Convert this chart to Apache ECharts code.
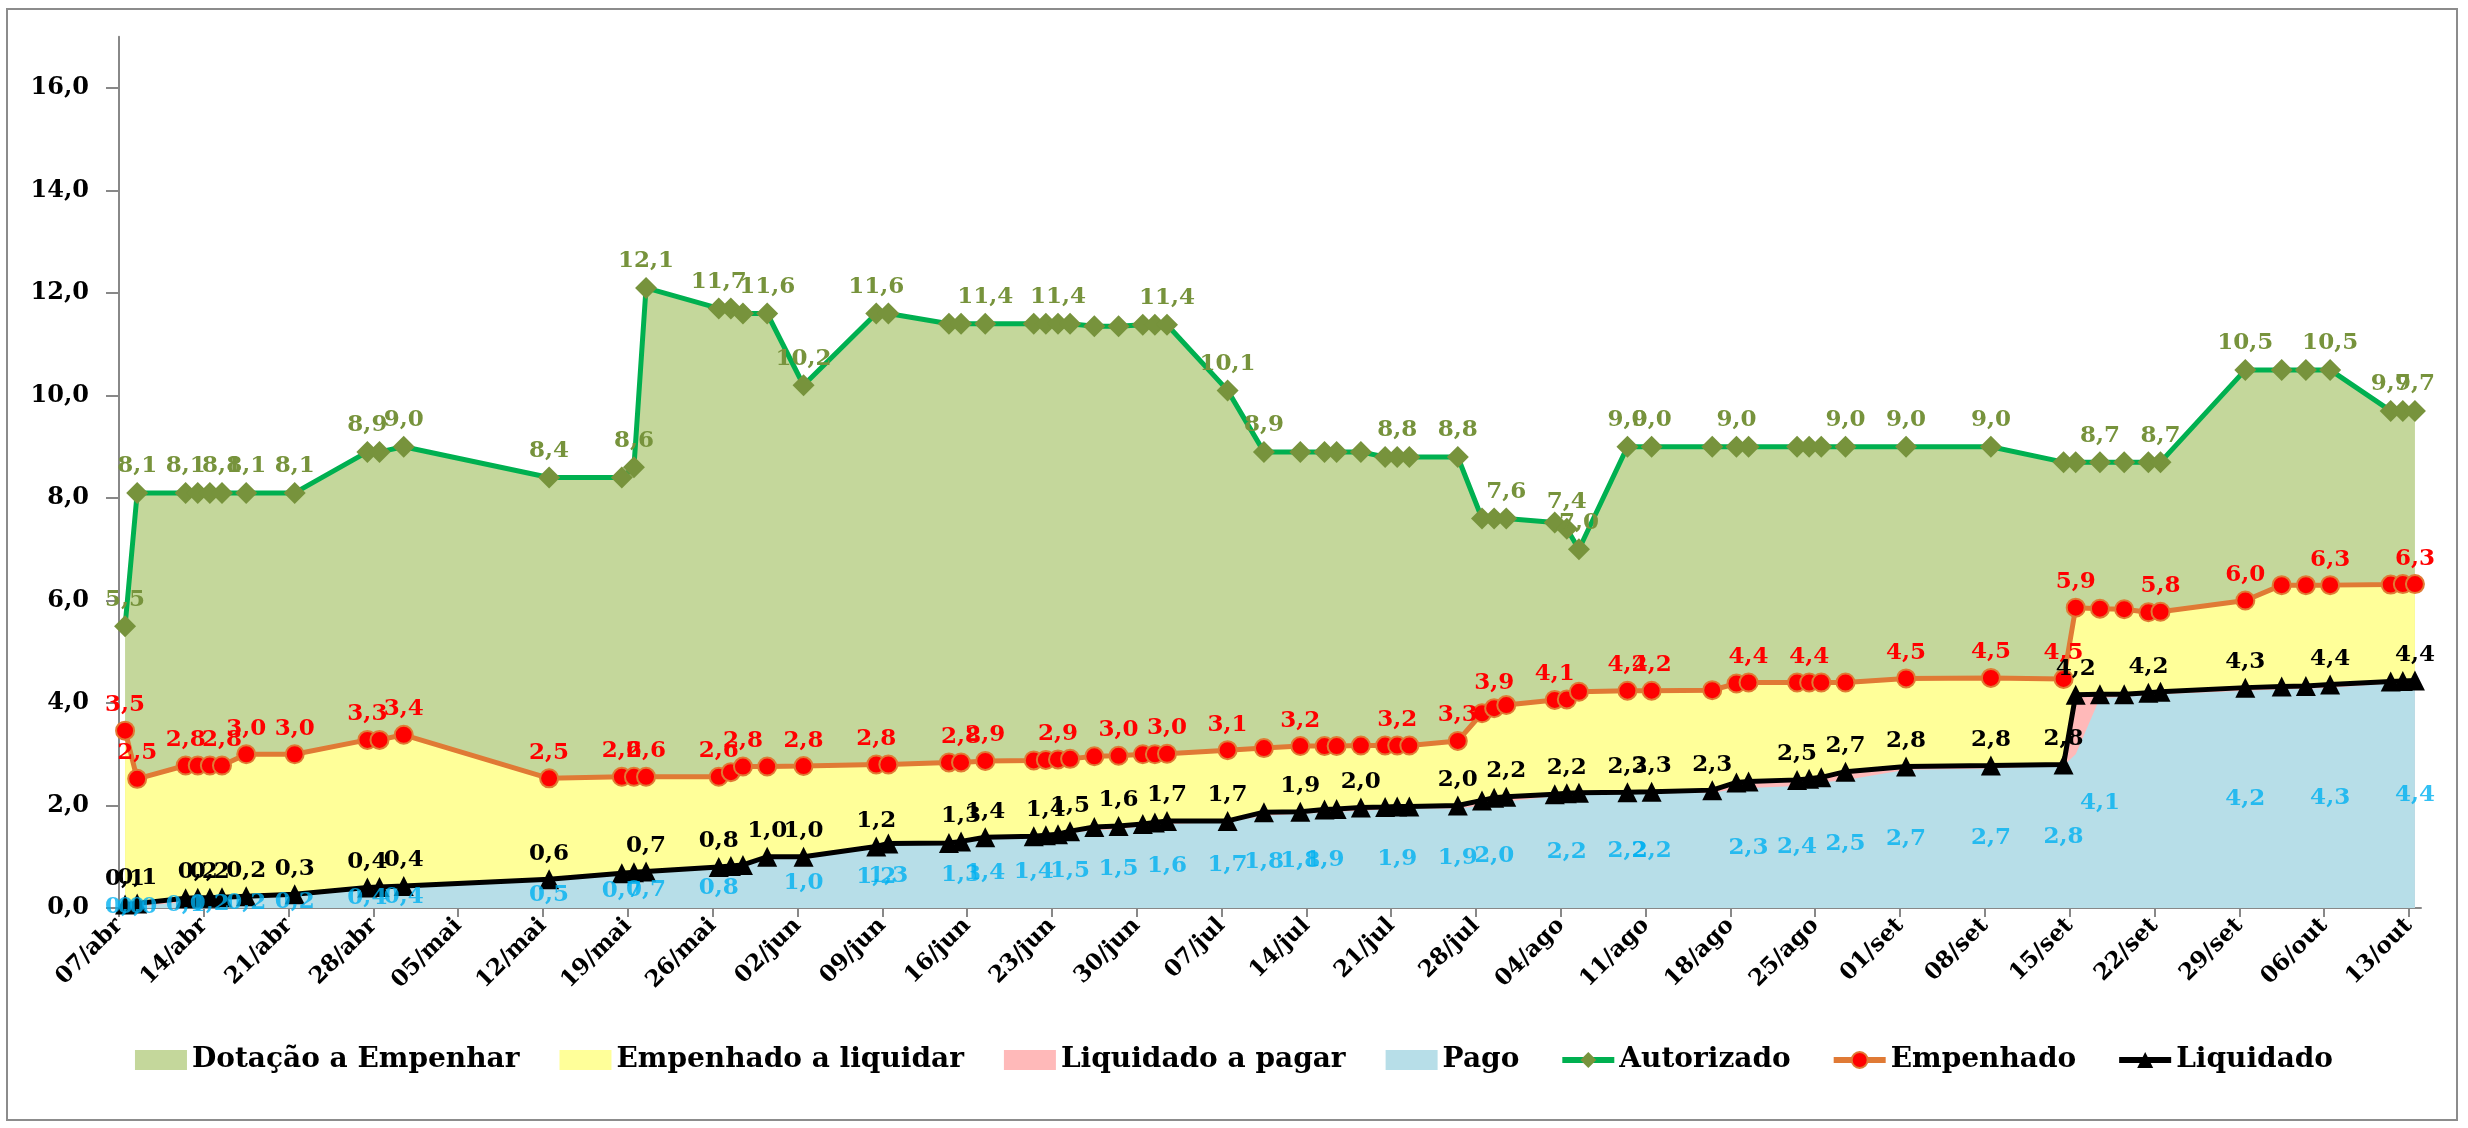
<!DOCTYPE html>
<html><head><meta charset="utf-8">
<script src="https://cdn.jsdelivr.net/npm/echarts@6/dist/echarts.min.js"></script>
<style>html,body{margin:0;padding:0;background:#fff}#c{width:2468px;height:1128px}</style>
</head><body><div id="c"></div>
<script>
// ---- data (dates dd/mm) ----
const dates = ['07/04','08/04','12/04','13/04','14/04','15/04','17/04','21/04','27/04','28/04','30/04','12/05','18/05','19/05','20/05','26/05','27/05','28/05','30/05','02/06','08/06','09/06','14/06','15/06','17/06','21/06','22/06','23/06','24/06','26/06','28/06','30/06','01/07','02/07','07/07','10/07','13/07','15/07','16/07','18/07','20/07','21/07','22/07','26/07','28/07','29/07','30/07','03/08','04/08','05/08','09/08','11/08','16/08','18/08','19/08','23/08','24/08','25/08','27/08','01/09','08/09','14/09','15/09','17/09','19/09','21/09','22/09','29/09','02/10','04/10','06/10','11/10','12/10','13/10'];
const autorizado = [5.5,8.1,8.1,8.1,8.1,8.1,8.1,8.1,8.9,8.9,9.0,8.4,8.4,8.6,12.1,11.7,11.7,11.6,11.6,10.2,11.6,11.6,11.4,11.4,11.4,11.4,11.4,11.4,11.4,11.35,11.35,11.38,11.38,11.38,10.1,8.9,8.9,8.9,8.9,8.9,8.8,8.8,8.8,8.8,7.6,7.6,7.6,7.52,7.4,7.0,9.0,9.0,9.0,9.0,9.0,9.0,9.0,9.0,9.0,9.0,9.0,8.7,8.7,8.7,8.7,8.7,8.7,10.5,10.5,10.5,10.5,9.7,9.7,9.7];
const empenhado = [3.46,2.52,2.78,2.78,2.78,2.78,3.0,3.0,3.28,3.28,3.38,2.53,2.56,2.56,2.56,2.56,2.65,2.76,2.76,2.77,2.8,2.8,2.84,2.84,2.87,2.88,2.89,2.9,2.91,2.96,2.97,3.0,3.0,3.01,3.08,3.12,3.16,3.16,3.16,3.17,3.17,3.17,3.17,3.26,3.8,3.9,3.96,4.06,4.07,4.22,4.24,4.24,4.25,4.38,4.4,4.4,4.4,4.4,4.4,4.48,4.49,4.47,5.86,5.84,5.83,5.77,5.78,6.0,6.3,6.3,6.3,6.31,6.32,6.32];
const liquidado = [0.07,0.09,0.19,0.2,0.2,0.21,0.23,0.27,0.4,0.41,0.43,0.56,0.68,0.7,0.71,0.8,0.82,0.84,1.0,1.0,1.2,1.26,1.27,1.3,1.38,1.4,1.42,1.44,1.5,1.58,1.6,1.64,1.67,1.7,1.7,1.87,1.88,1.92,1.93,1.96,1.97,1.98,1.98,2.0,2.1,2.15,2.17,2.22,2.24,2.25,2.26,2.27,2.3,2.45,2.47,2.5,2.52,2.55,2.66,2.76,2.78,2.8,4.16,4.17,4.17,4.2,4.22,4.3,4.32,4.33,4.36,4.42,4.43,4.44];
const pago = [0.02,0.03,0.12,0.14,0.16,0.18,0.2,0.22,0.38,0.4,0.42,0.52,0.68,0.68,0.7,0.78,0.8,0.82,0.96,0.98,1.2,1.26,1.27,1.3,1.38,1.4,1.42,1.44,1.46,1.52,1.53,1.6,1.62,1.64,1.68,1.8,1.84,1.86,1.88,1.9,1.92,1.93,1.94,1.94,2.0,2.04,2.08,2.18,2.2,2.22,2.24,2.24,2.25,2.32,2.34,2.38,2.42,2.45,2.5,2.7,2.72,2.78,3.0,4.1,4.12,4.15,4.17,4.24,4.27,4.28,4.3,4.38,4.4,4.42];
const tickLabels = ['07/abr','14/abr','21/abr','28/abr','05/mai','12/mai','19/mai','26/mai','02/jun','09/jun','16/jun','23/jun','30/jun','07/jul','14/jul','21/jul','28/jul','04/ago','11/ago','18/ago','25/ago','01/set','08/set','15/set','22/set','29/set','06/out','13/out'];
const yTicks = [0,2,4,6,8,10,12,14,16];
// dates whose value labels are visible in the reference
const autLabelDates = ['07/04','08/04','12/04','15/04','17/04','21/04','27/04','30/04','12/05','19/05','20/05','26/05','30/05','02/06','08/06','17/06','23/06','02/07','07/07','10/07','21/07','26/07','30/07','04/08','05/08','09/08','11/08','18/08','27/08','01/09','08/09','17/09','22/09','29/09','06/10','11/10','13/10'];
const empLabelDates = ['07/04','08/04','12/04','15/04','17/04','21/04','27/04','30/04','12/05','18/05','20/05','26/05','28/05','02/06','08/06','15/06','17/06','23/06','28/06','02/07','07/07','13/07','21/07','26/07','29/07','03/08','09/08','11/08','19/08','24/08','01/09','08/09','14/09','15/09','22/09','29/09','06/10','13/10'];
const liqLabelDates = ['07/04','08/04','13/04','14/04','17/04','21/04','27/04','30/04','12/05','20/05','26/05','30/05','02/06','08/06','15/06','17/06','22/06','24/06','28/06','02/07','07/07','13/07','18/07','26/07','30/07','04/08','09/08','11/08','16/08','23/08','27/08','01/09','08/09','14/09','15/09','21/09','29/09','06/10','13/10'];
const pagoLabelDates = ['07/04','08/04','12/04','14/04','17/04','21/04','27/04','30/04','12/05','18/05','20/05','26/05','02/06','08/06','09/06','15/06','17/06','21/06','24/06','28/06','02/07','07/07','10/07','13/07','15/07','21/07','26/07','29/07','04/08','09/08','11/08','19/08','23/08','27/08','01/09','08/09','14/09','17/09','29/09','06/10','13/10'];

// ---- helpers ----
const BASE = Date.UTC(2025, 3, 7);
const dayOf = s => { const [d, m] = s.split('/').map(Number); return (Date.UTC(2025, m - 1, d) - BASE) / 864e5; };
const xs = dates.map(s => dayOf(s) + 0.5);   // each day plotted at its middle
const fmt = v => v.toFixed(1).replace('.', ',');
const FONT = 'DejaVu Serif';
const LBL = 23;

// Stacked bands: Pago (bottom), Liquidado a pagar = Liquidado - Pago,
// Empenhado a liquidar = Empenhado - Liquidado, Dotação a Empenhar = Autorizado - Empenhado.
// Each band is painted from 0 up to its cumulative top, upper bands first.
function areaSeries(name, tops, color, z) {
  return { name, type: 'line', symbol: 'none', showSymbol: false,
    color, lineStyle: { width: 0, opacity: 0 }, areaStyle: { color, opacity: 1, origin: 'start' },
    data: tops.map((v, i) => [xs[i], v]), z, silent: true };
}
function lineSeries(name, vals, labelDates, lineColor, symbol, size, mColor, labColor, border) {
  const set = new Set(labelDates);
  return { name, type: 'line', symbol, symbolSize: size, color: mColor,
    lineStyle: { color: lineColor, width: 5 },
    itemStyle: { color: mColor, borderColor: border || mColor, borderWidth: border ? 2 : 0 },
    label: { show: false, position: 'top', distance: 4, color: labColor, fontFamily: FONT,
      fontWeight: 'bold', fontSize: LBL, formatter: p => fmt(p.value[1]) },
    data: vals.map((v, i) => ({ value: [xs[i], v], label: { show: set.has(dates[i]) } })),
    z: 5 };
}
const pagoSet = new Set(pagoLabelDates);

const option = {
  animation: false,
  graphic: [{ type: 'rect', shape: { x: 7, y: 9, width: 2450, height: 1111 },
    style: { fill: 'none', stroke: '#8c8c8c', lineWidth: 2 } }],
  grid: { left: 119, right: 47, top: 36.75, bottom: 220, outerBoundsMode: 'none' },
  legend: {
    top: 1041, left: 'center', itemWidth: 52, itemHeight: 20, itemGap: 40,
    lineStyle: { width: 6 },
    textStyle: { fontFamily: FONT, fontWeight: 'bold', fontSize: 28, color: '#000' },
    data: [
      { name: 'Dotação a Empenhar', icon: 'rect' },
      { name: 'Empenhado a liquidar', icon: 'rect' },
      { name: 'Liquidado a pagar', icon: 'rect' },
      { name: 'Pago', icon: 'rect' },
      'Autorizado', 'Empenhado', 'Liquidado'
    ]
  },
  xAxis: {
    type: 'value', min: 0, max: 190,
    axisLine: { show: true, lineStyle: { color: '#888', width: 2 } },
    axisTick: { show: true, length: 9, lineStyle: { color: '#888', width: 2 },
      customValues: tickLabels.map((_, i) => i * 7) },
    axisLabel: { rotate: 45, margin: 14, fontFamily: FONT, fontWeight: 'bold', fontSize: 23, color: '#000',
      customValues: tickLabels.map((_, i) => i * 7),
      formatter: v => tickLabels[Math.round(v / 7)] },
    splitLine: { show: false }
  },
  yAxis: {
    type: 'value', min: 0, max: 17,
    axisLine: { show: true, lineStyle: { color: '#888', width: 2 } },
    axisTick: { show: true, length: 13, lineStyle: { color: '#888', width: 2 }, customValues: yTicks },
    axisLabel: { margin: 30, fontFamily: FONT, fontWeight: 'bold', fontSize: 24, color: '#000',
      customValues: yTicks, formatter: v => fmt(v) },
    splitLine: { show: false }
  },
  series: [
    areaSeries('Dotação a Empenhar', autorizado, '#C4D79B', 1),
    areaSeries('Empenhado a liquidar', empenhado, '#FFFF99', 2),
    areaSeries('Liquidado a pagar', liquidado, '#FFB9B9', 3),
    areaSeries('Pago', pago, '#B7DEE8', 4),
    lineSeries('Autorizado', autorizado, autLabelDates, '#00B050', 'diamond', 22, '#77933C', '#77933C'),
    lineSeries('Empenhado', empenhado, empLabelDates, '#E07A35', 'circle', 18, '#FF0000', '#FF0000', '#E07A35'),
    lineSeries('Liquidado', liquidado, liqLabelDates, '#000000', 'triangle', 20, '#000000', '#000000'),
    { name: 'PagoLabels', type: 'scatter', symbolSize: 1, itemStyle: { color: 'rgba(0,0,0,0)' }, z: 6, silent: true,
      label: { show: false, position: 'inside', color: '#00B0F0', fontFamily: FONT, fontWeight: 'bold', fontSize: LBL,
        formatter: p => fmt(pago[p.dataIndex]) },
      data: pago.map((v, i) => ({ value: [xs[i], v / 2], label: { show: pagoSet.has(dates[i]) } })) }
  ]
};
const chart = echarts.init(document.getElementById('c'));
chart.setOption(option);
</script></body></html>
